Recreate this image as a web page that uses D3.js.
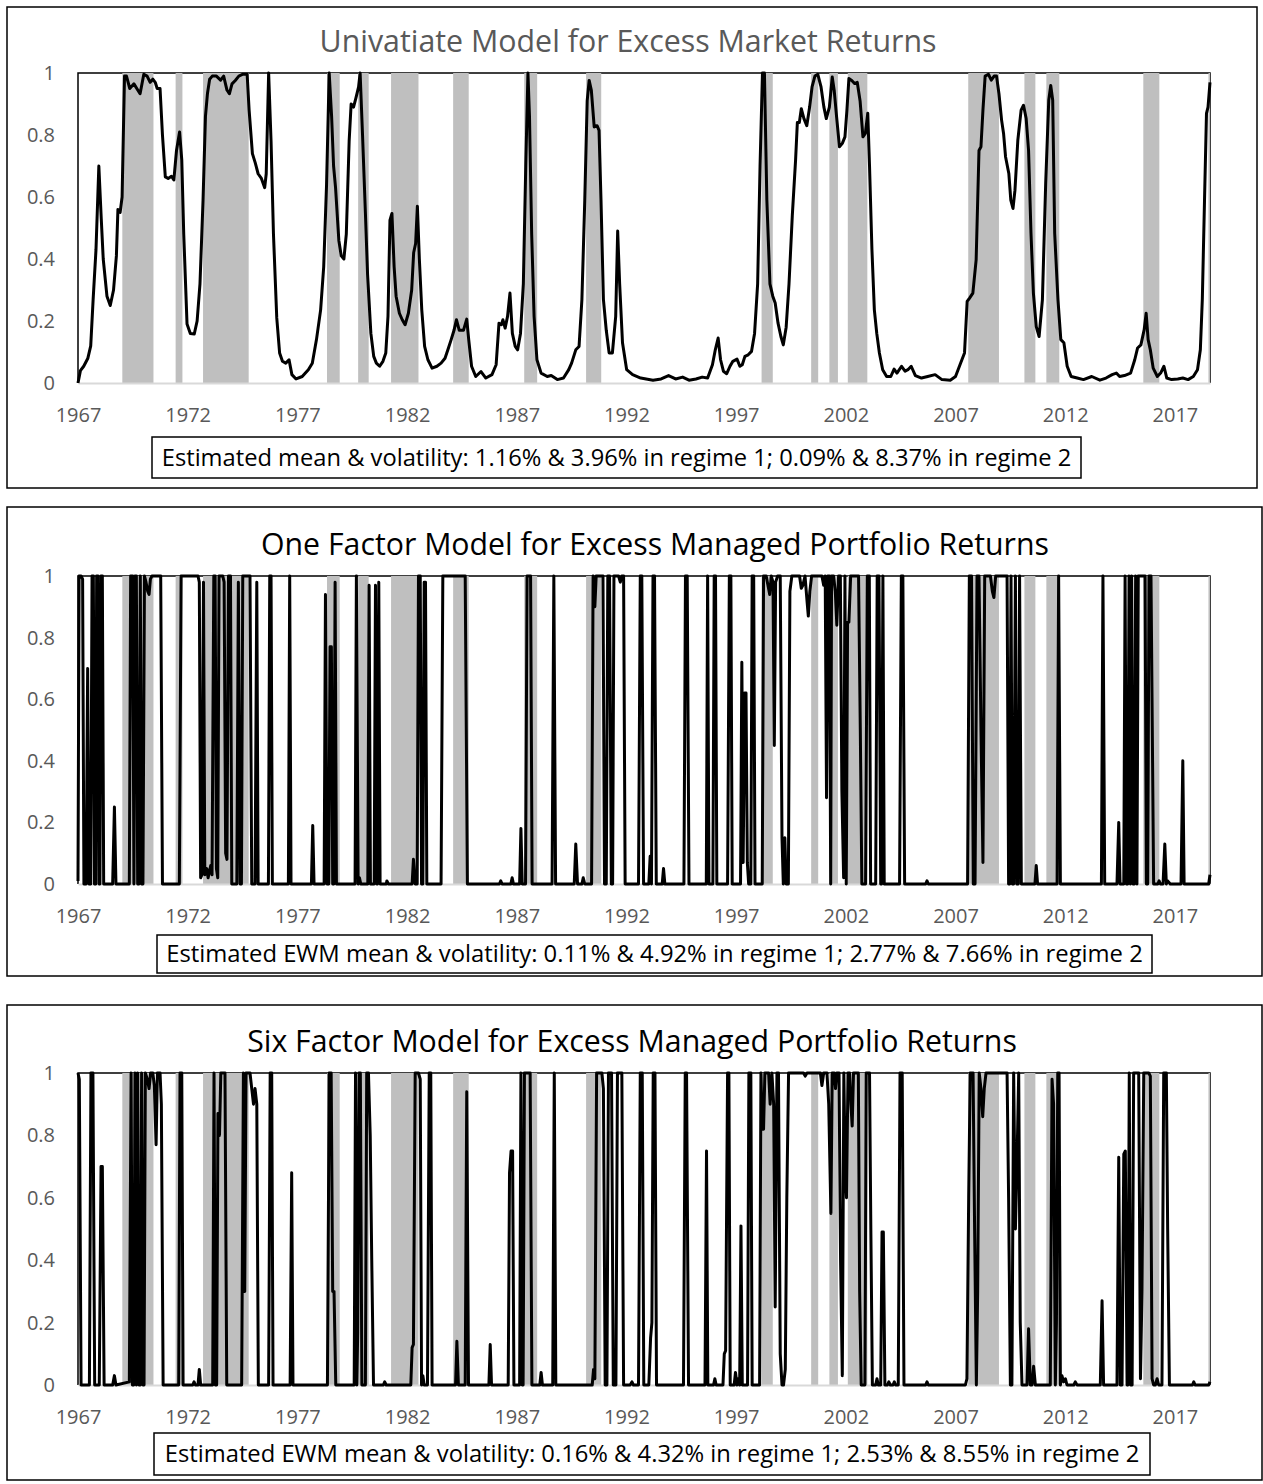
<!DOCTYPE html>
<html>
<head>
<meta charset="utf-8">
<script src="https://cdnjs.cloudflare.com/ajax/libs/d3/7.8.5/d3.min.js"></script>
<style>
  body { margin: 0; background: #fff; }
  text { font-family: "Open Sans", "Noto Sans", sans-serif; }
</style>
</head>
<body>
<svg id="chart" width="1263" height="1484"></svg>
<script>
// tick labels
const xTickYears = [1967, 1972, 1977, 1982, 1987, 1992, 1997, 2002, 2007, 2012, 2017];
const yTicks = [0, 0.2, 0.4, 0.6, 0.8, 1];

// shaded periods [start, end] in decimal years
const shadedPeriods = [
  [1969.02, 1970.44], [1971.45, 1971.76], [1972.70, 1974.78], [1978.35, 1978.93],
  [1979.77, 1980.25], [1981.27, 1982.52], [1984.10, 1984.81], [1987.34, 1987.93],
  [1990.16, 1990.85], [1998.16, 1998.67], [2000.42, 2000.74], [2001.25, 2001.64],
  [2002.09, 2002.98], [2007.58, 2008.98], [2010.14, 2010.64], [2011.14, 2011.73],
  [2015.56, 2016.29], [2018.53, 2018.60]
];

// regime probability, univariate model [year, prob]
const univariate = [
  [1967.00,0.00],[1967.11,0.04],[1967.26,0.054],[1967.45,0.08],[1967.58,0.12],[1967.69,0.27],[1967.82,0.43],[1967.95,0.70],
  [1968.06,0.53],[1968.15,0.40],[1968.32,0.28],[1968.47,0.25],[1968.62,0.30],[1968.75,0.41],[1968.82,0.56],[1968.92,0.55],
  [1969.01,0.60],[1969.12,0.99],[1969.21,0.99],[1969.36,0.95],[1969.55,0.965],[1969.68,0.95],[1969.83,0.933],[1970.00,0.996],
  [1970.15,0.99],[1970.29,0.97],[1970.41,0.98],[1970.52,0.97],[1970.61,0.95],[1970.74,0.95],[1970.85,0.80],[1970.98,0.665],
  [1971.11,0.66],[1971.26,0.667],[1971.37,0.655],[1971.49,0.75],[1971.63,0.81],[1971.73,0.72],[1971.82,0.48],[1971.97,0.19],
  [1972.12,0.16],[1972.30,0.158],[1972.43,0.20],[1972.56,0.32],[1972.70,0.59],[1972.81,0.86],[1972.90,0.933],[1973.00,0.98],
  [1973.12,0.99],[1973.31,0.99],[1973.50,0.977],[1973.64,0.99],[1973.79,0.945],[1973.90,0.933],[1974.02,0.965],[1974.17,0.976],
  [1974.33,0.99],[1974.52,0.996],[1974.71,0.996],[1974.80,0.88],[1974.95,0.74],[1975.08,0.71],[1975.21,0.675],[1975.36,0.66],
  [1975.51,0.63],[1975.58,0.675],[1975.69,1.0],[1975.80,0.78],[1975.91,0.48],[1976.06,0.21],[1976.19,0.097],[1976.32,0.07],
  [1976.47,0.064],[1976.62,0.075],[1976.75,0.027],[1976.94,0.013],[1977.22,0.021],[1977.50,0.043],[1977.68,0.064],[1977.87,0.14],
  [1978.06,0.236],[1978.20,0.375],[1978.33,0.64],[1978.45,1.0],[1978.56,0.86],[1978.65,0.70],[1978.74,0.63],[1978.89,0.46],
  [1979.00,0.41],[1979.12,0.40],[1979.23,0.48],[1979.36,0.78],[1979.45,0.90],[1979.56,0.89],[1979.67,0.92],[1979.79,0.955],
  [1979.86,1.0],[1979.97,0.80],[1980.10,0.55],[1980.20,0.35],[1980.35,0.16],[1980.48,0.086],[1980.60,0.064],[1980.75,0.054],
  [1980.90,0.07],[1981.03,0.097],[1981.13,0.215],[1981.22,0.525],[1981.31,0.547],[1981.41,0.375],[1981.50,0.28],[1981.65,0.225],
  [1981.78,0.204],[1981.91,0.188],[1982.06,0.225],[1982.21,0.30],[1982.30,0.42],[1982.39,0.45],[1982.47,0.57],[1982.56,0.40],
  [1982.67,0.236],[1982.80,0.118],[1982.95,0.075],[1983.14,0.048],[1983.36,0.054],[1983.55,0.064],[1983.73,0.08],[1983.86,0.107],
  [1984.01,0.14],[1984.14,0.17],[1984.25,0.204],[1984.38,0.17],[1984.57,0.17],[1984.72,0.206],[1984.81,0.14],[1984.94,0.054],
  [1985.13,0.021],[1985.37,0.037],[1985.59,0.016],[1985.87,0.027],[1986.06,0.059],[1986.19,0.193],[1986.30,0.188],[1986.37,0.204],
  [1986.47,0.177],[1986.58,0.215],[1986.69,0.29],[1986.80,0.16],[1986.93,0.118],[1987.04,0.107],[1987.17,0.16],[1987.30,0.32],
  [1987.41,0.70],[1987.51,1.0],[1987.58,0.86],[1987.68,0.48],[1987.79,0.215],[1987.92,0.075],[1988.11,0.032],[1988.39,0.021],
  [1988.57,0.024],[1988.85,0.011],[1989.13,0.016],[1989.37,0.043],[1989.50,0.064],[1989.69,0.107],[1989.84,0.118],[1989.97,0.27],
  [1990.10,0.59],[1990.21,0.91],[1990.30,0.976],[1990.40,0.944],[1990.53,0.826],[1990.66,0.83],[1990.75,0.815],[1990.84,0.59],
  [1990.95,0.27],[1991.08,0.17],[1991.21,0.097],[1991.36,0.097],[1991.51,0.215],[1991.60,0.49],[1991.69,0.32],[1991.82,0.13],
  [1992.01,0.043],[1992.28,0.027],[1992.65,0.016],[1993.21,0.009],[1993.58,0.013],[1993.92,0.024],[1994.24,0.013],[1994.56,0.019],
  [1994.85,0.009],[1995.17,0.013],[1995.45,0.019],[1995.70,0.016],[1995.92,0.059],[1996.05,0.107],[1996.18,0.145],[1996.29,0.075],
  [1996.42,0.038],[1996.57,0.03],[1996.72,0.054],[1996.85,0.07],[1997.04,0.077],[1997.17,0.054],[1997.28,0.059],[1997.40,0.086],
  [1997.55,0.091],[1997.70,0.102],[1997.84,0.16],[1997.98,0.32],[1998.09,0.70],[1998.20,1.0],[1998.29,1.0],[1998.40,0.59],
  [1998.54,0.32],[1998.67,0.28],[1998.78,0.258],[1998.91,0.193],[1999.04,0.15],[1999.15,0.123],[1999.28,0.18],[1999.41,0.32],
  [1999.56,0.54],[1999.71,0.72],[1999.79,0.84],[1999.88,0.84],[1999.97,0.885],[2000.09,0.853],[2000.22,0.83],[2000.35,0.89],
  [2000.46,0.955],[2000.59,0.99],[2000.72,0.996],[2000.87,0.955],[2001.00,0.89],[2001.11,0.853],[2001.25,0.89],[2001.38,0.987],
  [2001.47,0.944],[2001.58,0.858],[2001.71,0.762],[2001.84,0.773],[2001.96,0.794],[2002.05,0.88],[2002.14,0.982],[2002.27,0.976],
  [2002.40,0.966],[2002.52,0.97],[2002.65,0.91],[2002.78,0.794],[2002.89,0.805],[2003.00,0.87],[2003.08,0.70],[2003.19,0.43],
  [2003.30,0.236],[2003.41,0.16],[2003.53,0.097],[2003.68,0.043],[2003.86,0.021],[2004.05,0.021],[2004.20,0.045],[2004.33,0.032],
  [2004.54,0.054],[2004.70,0.038],[2004.83,0.043],[2004.98,0.054],[2005.17,0.024],[2005.45,0.016],[2005.73,0.021],[2006.07,0.027],
  [2006.38,0.011],[2006.76,0.009],[2007.00,0.021],[2007.23,0.064],[2007.41,0.097],[2007.53,0.263],[2007.64,0.274],[2007.79,0.29],
  [2007.94,0.397],[2008.07,0.75],[2008.16,0.762],[2008.25,0.88],[2008.35,0.99],[2008.50,0.996],[2008.63,0.977],[2008.76,0.99],
  [2008.87,0.99],[2008.98,0.933],[2009.10,0.848],[2009.19,0.805],[2009.28,0.73],[2009.43,0.676],[2009.52,0.59],[2009.62,0.563],
  [2009.71,0.622],[2009.84,0.783],[2009.99,0.88],[2010.10,0.896],[2010.22,0.853],[2010.33,0.75],[2010.44,0.483],[2010.55,0.29],
  [2010.68,0.182],[2010.81,0.15],[2010.96,0.268],[2011.11,0.644],[2011.25,0.912],[2011.34,0.96],[2011.43,0.912],[2011.52,0.483],
  [2011.67,0.268],[2011.80,0.14],[2011.94,0.13],[2012.09,0.054],[2012.27,0.021],[2012.55,0.016],[2012.83,0.011],[2013.21,0.021],
  [2013.58,0.009],[2013.86,0.016],[2014.14,0.027],[2014.33,0.032],[2014.48,0.021],[2014.70,0.024],[2014.98,0.032],[2015.17,0.075],
  [2015.30,0.113],[2015.45,0.123],[2015.60,0.172],[2015.69,0.225],[2015.78,0.14],[2015.88,0.107],[2016.01,0.048],[2016.20,0.021],
  [2016.35,0.032],[2016.50,0.054],[2016.63,0.016],[2016.85,0.011],[2017.13,0.013],[2017.36,0.016],[2017.60,0.011],[2017.84,0.021],
  [2018.03,0.043],[2018.16,0.107],[2018.25,0.27],[2018.35,0.59],[2018.44,0.87],[2018.51,0.89],[2018.60,0.97]
];

// regime probability, one factor model
const oneFactor = [
  [1967.00,0.01],[1967.05,1.0],[1967.14,1.0],[1967.21,0.99],[1967.27,0.0],[1967.37,0.0],[1967.44,0.7],[1967.50,0.0],
  [1967.58,0.0],[1967.64,1.0],[1967.70,1.0],[1967.75,0.0],[1967.81,0.0],[1967.85,1.0],[1967.91,1.0],[1967.96,0.0],
  [1968.00,0.0],[1968.05,1.0],[1968.11,1.0],[1968.17,0.0],[1968.58,0.0],[1968.66,0.25],[1968.73,0.0],[1969.34,0.0],
  [1969.40,1.0],[1969.49,1.0],[1969.55,0.0],[1969.60,1.0],[1969.66,1.0],[1969.72,0.0],[1969.78,0.0],[1969.84,1.0],
  [1969.90,0.0],[1969.96,0.0],[1970.03,1.0],[1970.10,0.98],[1970.18,0.95],[1970.24,0.94],[1970.30,0.99],[1970.37,1.0],
  [1970.77,1.0],[1970.85,0.0],[1971.62,0.0],[1971.70,1.0],[1972.47,1.0],[1972.53,0.98],[1972.59,0.02],[1972.65,0.03],
  [1972.72,0.98],[1972.78,0.03],[1972.87,0.05],[1972.93,0.02],[1972.99,0.04],[1973.05,0.06],[1973.11,0.03],[1973.19,1.0],
  [1973.25,1.0],[1973.31,0.05],[1973.37,0.02],[1973.43,1.0],[1973.60,1.0],[1973.66,0.98],[1973.73,0.1],[1973.79,0.08],
  [1973.86,1.0],[1973.95,1.0],[1974.01,0.0],[1974.24,0.0],[1974.31,0.98],[1974.39,0.0],[1974.45,0.0],[1974.51,1.0],
  [1974.84,1.0],[1974.92,0.0],[1975.07,0.0],[1975.15,0.98],[1975.21,0.0],[1975.68,0.0],[1975.74,1.0],[1975.80,1.0],
  [1975.86,0.0],[1976.59,0.0],[1976.65,1.0],[1976.71,0.0],[1977.64,0.0],[1977.70,0.19],[1977.76,0.0],[1978.22,0.0],
  [1978.28,0.94],[1978.35,0.0],[1978.43,0.0],[1978.49,0.77],[1978.55,0.77],[1978.61,0.0],[1978.66,0.0],[1978.72,0.98],
  [1978.78,0.0],[1979.63,0.0],[1979.69,1.0],[1979.77,0.0],[1979.83,0.02],[1979.89,0.0],[1980.21,0.0],[1980.27,0.97],
  [1980.33,0.0],[1980.50,0.0],[1980.56,0.97],[1980.62,0.0],[1980.65,0.0],[1980.71,0.98],[1980.77,0.0],[1981.05,0.0],
  [1981.08,0.01],[1981.15,0.0],[1982.23,0.0],[1982.29,0.08],[1982.37,0.0],[1982.46,0.0],[1982.52,1.0],[1982.60,1.0],
  [1982.66,0.0],[1982.72,0.0],[1982.78,0.98],[1982.84,0.98],[1982.90,0.0],[1983.55,0.0],[1983.63,1.0],[1984.65,1.0],
  [1984.75,0.0],[1986.21,0.0],[1986.27,0.01],[1986.33,0.0],[1986.73,0.0],[1986.79,0.02],[1986.85,0.0],[1987.13,0.0],
  [1987.19,0.18],[1987.25,0.0],[1987.40,0.0],[1987.47,1.0],[1987.63,1.0],[1987.70,0.0],[1988.61,0.0],[1988.69,1.0],
  [1988.77,0.0],[1989.62,0.0],[1989.69,0.13],[1989.77,0.0],[1989.97,0.0],[1990.03,0.02],[1990.10,0.0],[1990.41,0.0],
  [1990.48,1.0],[1990.56,0.9],[1990.62,1.0],[1990.93,1.0],[1991.00,0.0],[1991.08,0.0],[1991.15,1.0],[1991.23,1.0],
  [1991.31,0.0],[1991.37,0.0],[1991.43,1.0],[1991.64,1.0],[1991.72,0.98],[1991.79,1.0],[1991.87,1.0],[1991.94,0.0],
  [1992.55,0.0],[1992.63,1.0],[1992.70,1.0],[1992.78,0.0],[1993.02,0.0],[1993.08,0.09],[1993.14,0.0],[1993.21,1.0],
  [1993.28,1.0],[1993.36,0.0],[1993.63,0.0],[1993.69,0.05],[1993.75,0.0],[1994.62,0.0],[1994.69,1.0],[1994.77,1.0],
  [1994.85,0.0],[1995.64,0.0],[1995.70,1.0],[1995.76,0.0],[1995.94,0.0],[1996.00,1.0],[1996.06,1.0],[1996.12,0.0],
  [1996.61,0.0],[1996.69,1.0],[1996.76,1.0],[1996.82,0.0],[1997.20,0.0],[1997.26,0.72],[1997.32,0.07],[1997.39,0.62],
  [1997.45,0.62],[1997.51,0.07],[1997.57,0.0],[1997.67,0.0],[1997.73,1.0],[1997.80,1.0],[1997.86,0.0],[1998.19,0.0],
  [1998.25,1.0],[1998.37,1.0],[1998.45,0.97],[1998.53,0.94],[1998.60,1.0],[1998.68,0.98],[1998.74,0.45],[1998.80,0.98],
  [1998.89,1.0],[1999.01,1.0],[1999.09,0.15],[1999.15,0.0],[1999.22,0.15],[1999.28,0.0],[1999.38,0.0],[1999.45,0.95],
  [1999.54,1.0],[1999.89,1.0],[1999.97,0.96],[2000.04,0.97],[2000.14,1.0],[2000.23,0.92],[2000.29,0.87],[2000.36,0.95],
  [2000.44,1.0],[2000.91,1.0],[2000.99,0.97],[2001.06,1.0],[2001.12,0.28],[2001.18,1.0],[2001.25,1.0],[2001.31,0.0],
  [2001.35,1.0],[2001.44,1.0],[2001.52,0.95],[2001.59,0.84],[2001.67,1.0],[2001.75,1.0],[2001.82,0.3],[2001.90,0.02],
  [2001.96,1.0],[2002.02,0.0],[2002.08,0.85],[2002.14,0.85],[2002.22,1.0],[2002.58,1.0],[2002.66,0.5],[2002.73,0.0],
  [2002.90,0.0],[2002.98,1.0],[2003.07,1.0],[2003.13,0.0],[2003.36,0.0],[2003.43,1.0],[2003.51,1.0],[2003.59,0.0],
  [2003.63,0.0],[2003.69,1.0],[2003.75,0.0],[2004.45,0.0],[2004.53,1.0],[2004.60,1.0],[2004.68,0.0],[2005.64,0.0],
  [2005.70,0.01],[2005.76,0.0],[2007.55,0.0],[2007.63,1.0],[2007.73,1.0],[2007.81,0.0],[2007.89,0.0],[2007.98,1.0],
  [2008.07,1.0],[2008.16,0.5],[2008.25,0.07],[2008.33,1.0],[2008.59,1.0],[2008.68,0.95],[2008.75,0.93],[2008.83,1.0],
  [2009.35,1.0],[2009.42,0.0],[2009.47,0.0],[2009.53,1.0],[2009.59,0.0],[2009.65,0.0],[2009.73,1.0],[2009.79,0.0],
  [2009.86,0.0],[2009.92,1.0],[2010.00,0.0],[2010.62,0.0],[2010.68,0.06],[2010.74,0.0],[2011.63,0.0],[2011.70,1.0],
  [2011.78,0.0],[2013.65,0.0],[2013.72,1.0],[2013.80,0.0],[2014.36,0.0],[2014.44,0.2],[2014.50,0.0],[2014.67,0.0],
  [2014.73,1.0],[2014.79,0.0],[2014.85,0.0],[2014.91,1.0],[2014.97,0.0],[2015.03,1.0],[2015.09,0.0],[2015.15,0.0],
  [2015.21,1.0],[2015.27,0.0],[2015.33,1.0],[2015.64,1.0],[2015.70,0.0],[2015.76,0.0],[2015.82,1.0],[2015.91,1.0],
  [2015.97,0.5],[2016.03,0.0],[2016.22,0.0],[2016.28,0.01],[2016.34,0.0],[2016.46,0.0],[2016.54,0.13],[2016.61,0.0],
  [2016.67,0.01],[2016.79,0.0],[2017.28,0.0],[2017.36,0.4],[2017.42,0.0],[2018.54,0.0],[2018.60,0.03]
];

// regime probability, six factor model
const sixFactor = [
  [1967.00,1.0],[1967.06,0.98],[1967.14,0.0],[1967.52,0.0],[1967.59,1.0],[1967.68,1.0],[1967.76,0.0],[1967.97,0.0],
  [1968.05,0.7],[1968.11,0.7],[1968.19,0.0],[1968.58,0.0],[1968.66,0.03],[1968.73,0.0],[1969.34,0.01],[1969.42,1.0],
  [1969.48,0.0],[1969.54,0.0],[1969.60,1.0],[1969.66,0.0],[1969.72,1.0],[1969.78,0.0],[1969.84,0.0],[1969.90,1.0],
  [1969.96,0.0],[1970.01,0.0],[1970.07,1.0],[1970.16,0.98],[1970.24,0.95],[1970.31,1.0],[1970.41,1.0],[1970.48,0.96],
  [1970.56,0.77],[1970.62,1.0],[1970.74,1.0],[1970.80,0.9],[1970.88,0.0],[1971.59,0.0],[1971.65,1.0],[1971.73,1.0],
  [1971.79,0.0],[1972.23,0.0],[1972.29,0.01],[1972.35,0.0],[1972.47,0.0],[1972.53,0.05],[1972.59,0.0],[1973.14,0.0],
  [1973.20,1.0],[1973.26,0.0],[1973.32,0.0],[1973.38,0.87],[1973.45,0.8],[1973.51,1.0],[1973.70,1.0],[1973.78,0.0],
  [1974.46,0.0],[1974.54,1.0],[1974.60,0.3],[1974.66,1.0],[1974.84,1.0],[1974.92,0.95],[1975.00,0.9],[1975.07,0.95],
  [1975.15,0.9],[1975.22,0.0],[1975.69,0.0],[1975.76,1.0],[1975.83,1.0],[1975.89,0.0],[1976.67,0.0],[1976.74,0.68],
  [1976.80,0.0],[1978.37,0.0],[1978.45,1.0],[1978.54,1.0],[1978.61,0.3],[1978.67,0.3],[1978.75,0.0],[1979.59,0.0],
  [1979.65,1.0],[1979.71,0.0],[1979.75,0.17],[1979.81,1.0],[1979.87,1.0],[1979.94,0.0],[1980.10,0.0],[1980.16,1.0],
  [1980.24,1.0],[1980.32,0.8],[1980.39,0.4],[1980.47,0.0],[1980.92,0.0],[1980.98,0.01],[1981.05,0.0],[1982.17,0.0],
  [1982.23,0.12],[1982.29,0.13],[1982.37,1.0],[1982.52,1.0],[1982.60,0.98],[1982.66,0.0],[1982.72,0.03],[1982.78,0.0],
  [1982.93,0.0],[1983.01,1.0],[1983.08,1.0],[1983.14,0.0],[1984.21,0.0],[1984.27,0.14],[1984.34,0.0],[1984.65,0.0],
  [1984.72,0.94],[1984.80,0.0],[1985.73,0.0],[1985.79,0.13],[1985.85,0.0],[1986.61,0.0],[1986.67,0.68],[1986.74,0.75],
  [1986.81,0.75],[1986.87,0.0],[1987.13,0.0],[1987.19,1.0],[1987.25,0.0],[1987.29,0.0],[1987.35,1.0],[1987.61,1.0],
  [1987.69,0.0],[1988.05,0.0],[1988.11,0.04],[1988.17,0.0],[1988.64,0.0],[1988.71,1.0],[1988.78,0.0],[1990.44,0.0],
  [1990.50,0.05],[1990.56,0.02],[1990.64,1.0],[1990.88,1.0],[1990.95,0.95],[1991.03,0.0],[1991.11,0.0],[1991.18,1.0],
  [1991.32,1.0],[1991.40,0.0],[1991.52,0.0],[1991.59,1.0],[1991.79,1.0],[1991.87,0.0],[1992.17,0.0],[1992.25,0.01],
  [1992.32,0.0],[1992.55,0.0],[1992.63,1.0],[1992.72,1.0],[1992.79,0.0],[1993.02,0.0],[1993.10,0.15],[1993.16,0.2],
  [1993.22,1.0],[1993.30,1.0],[1993.37,0.0],[1994.60,0.0],[1994.68,1.0],[1994.74,1.0],[1994.83,0.0],[1995.58,0.0],
  [1995.65,0.75],[1995.71,0.0],[1995.97,0.0],[1996.03,0.02],[1996.09,0.0],[1996.40,0.0],[1996.46,0.1],[1996.52,0.11],
  [1996.61,1.0],[1996.67,1.0],[1996.73,0.0],[1996.91,0.0],[1996.97,0.04],[1997.04,0.0],[1997.10,0.02],[1997.16,0.0],
  [1997.22,0.51],[1997.28,0.0],[1997.52,0.0],[1997.58,1.0],[1997.67,1.0],[1997.73,0.0],[1998.07,0.0],[1998.13,1.0],
  [1998.19,0.82],[1998.25,0.82],[1998.31,1.0],[1998.48,1.0],[1998.55,0.9],[1998.63,1.0],[1998.71,0.9],[1998.78,0.25],
  [1998.86,1.0],[1998.93,1.0],[1999.01,0.1],[1999.09,0.0],[1999.16,0.0],[1999.24,0.05],[1999.31,0.6],[1999.39,1.0],
  [2000.07,1.0],[2000.15,0.99],[2000.23,1.0],[2000.84,1.0],[2000.91,0.96],[2000.99,1.0],[2001.14,1.0],[2001.22,0.9],
  [2001.32,0.55],[2001.38,1.0],[2001.47,1.0],[2001.53,0.95],[2001.59,1.0],[2001.69,1.0],[2001.76,0.4],[2001.84,0.03],
  [2001.91,1.0],[2001.97,0.7],[2002.03,0.6],[2002.10,1.0],[2002.17,1.0],[2002.23,0.9],[2002.29,0.83],[2002.35,1.0],
  [2002.57,1.0],[2002.63,0.3],[2002.70,0.0],[2002.87,0.0],[2002.93,1.0],[2003.08,1.0],[2003.14,0.5],[2003.21,0.0],
  [2003.36,0.0],[2003.42,0.02],[2003.48,0.0],[2003.59,0.0],[2003.65,0.49],[2003.71,0.49],[2003.78,0.0],[2003.90,0.0],
  [2003.96,0.01],[2004.03,0.0],[2004.15,0.0],[2004.21,0.01],[2004.27,0.0],[2004.39,0.0],[2004.47,1.0],[2004.57,1.0],
  [2004.65,0.0],[2005.64,0.0],[2005.70,0.01],[2005.76,0.0],[2007.45,0.0],[2007.52,0.02],[2007.60,0.6],[2007.67,1.0],
  [2007.80,1.0],[2007.87,0.5],[2007.95,0.0],[2008.01,0.3],[2008.08,1.0],[2008.16,0.95],[2008.24,0.86],[2008.31,0.95],
  [2008.39,1.0],[2009.35,1.0],[2009.42,0.6],[2009.50,0.0],[2009.57,0.0],[2009.65,1.0],[2009.73,0.5],[2009.80,0.7],
  [2009.88,1.0],[2009.95,0.2],[2010.03,0.0],[2010.26,0.0],[2010.33,0.18],[2010.41,0.0],[2010.49,0.0],[2010.56,0.06],
  [2010.64,0.0],[2011.32,0.0],[2011.40,0.98],[2011.47,0.9],[2011.55,0.0],[2011.60,0.2],[2011.66,1.0],[2011.72,1.0],
  [2011.78,0.0],[2011.85,0.03],[2011.93,0.01],[2012.01,0.02],[2012.08,0.0],[2012.39,0.0],[2012.46,0.01],[2012.54,0.0],
  [2013.60,0.0],[2013.68,0.27],[2013.75,0.0],[2014.36,0.0],[2014.44,0.73],[2014.51,0.0],[2014.59,0.0],[2014.67,0.74],
  [2014.74,0.75],[2014.82,0.0],[2014.86,0.0],[2014.92,1.0],[2014.98,0.0],[2015.05,0.0],[2015.12,1.0],[2015.35,1.0],
  [2015.43,0.02],[2015.50,0.3],[2015.58,1.0],[2015.81,1.0],[2015.88,0.99],[2015.96,0.02],[2016.03,0.0],[2016.11,0.0],
  [2016.19,0.02],[2016.26,0.0],[2016.41,0.0],[2016.49,1.0],[2016.61,1.0],[2016.67,0.5],[2016.75,0.0],[2017.80,0.0],
  [2017.86,0.01],[2017.92,0.0],[2018.54,0.0],[2018.60,0.01]
];

const titles = [
  "Univatiate Model for Excess Market Returns",
  "One Factor Model for Excess Managed Portfolio Returns",
  "Six Factor Model for Excess Managed Portfolio Returns"
];
const captions = [
  "Estimated mean & volatility: 1.16% & 3.96% in regime 1; 0.09% & 8.37% in regime 2",
  "Estimated EWM mean & volatility: 0.11% & 4.92% in regime 1; 2.77% & 7.66% in regime 2",
  "Estimated EWM mean & volatility: 0.16% & 4.32% in regime 1; 2.53% & 8.55% in regime 2"
];
const seriesList = [univariate, oneFactor, sixFactor];

// layout of the three stacked panels (pixels)
const layout = [
  { box: [7, 7, 1257, 488], top: 73, bottom: 383, titleY: 52, titleX: 628, titleW: 617, titleColor: "#595959",
    cap: [152, 437, 1081, 478], capW: 910 },
  { box: [7, 507, 1262, 976], top: 576, bottom: 884, titleY: 555, titleX: 655, titleW: 788, titleColor: "#000",
    cap: [157, 935, 1152, 973], capW: 977 },
  { box: [7, 1005, 1262, 1480], top: 1073, bottom: 1385, titleY: 1052, titleX: 632, titleW: 770, titleColor: "#000",
    cap: [154, 1433, 1150, 1475], capW: 975 }
];

const svg = d3.select("#chart");
const x = d3.scaleLinear().domain([1967, 2018.6]).range([78, 1210]);

function fitText(sel, target, start) {
  sel.style("font-size", start + "px");
  const len = sel.node().getComputedTextLength();
  sel.style("font-size", (start * target / len).toFixed(2) + "px");
}

layout.forEach((p, i) => {
  const g = svg.append("g");
  const y = d3.scaleLinear().domain([0, 1]).range([p.bottom, p.top]);

  g.append("rect")
    .attr("x", p.box[0]).attr("y", p.box[1])
    .attr("width", p.box[2] - p.box[0]).attr("height", p.box[3] - p.box[1])
    .attr("fill", "#fff").attr("stroke", "#000").attr("stroke-width", 1.5);

  const title = g.append("text")
    .attr("x", p.titleX).attr("y", p.titleY)
    .attr("text-anchor", "middle")
    .attr("fill", p.titleColor)
    .text(titles[i]);
  fitText(title, p.titleW, 28);

  // plot frame (top, left, right)
  g.append("path")
    .attr("d", `M${x(1967)},${y(0)}V${y(1)}H${x(2018.6)}V${y(0)}`)
    .attr("fill", "none").attr("stroke", "#000").attr("stroke-width", 1.5);

  g.selectAll("rect.band")
    .data(shadedPeriods)
    .join("rect")
    .attr("class", "band")
    .attr("x", d => x(d[0]))
    .attr("width", d => x(d[1]) - x(d[0]))
    .attr("y", y(1))
    .attr("height", y(0) - y(1))
    .attr("fill", "#bfbfbf");

  const xAxis = g.append("g")
    .attr("transform", `translate(0,${p.bottom})`)
    .call(d3.axisBottom(x).tickValues(xTickYears).tickFormat(d3.format("d")).tickSize(0).tickPadding(25));
  xAxis.select(".domain").attr("stroke", "#d9d9d9").attr("stroke-width", 2);
  xAxis.selectAll("text").attr("fill", "#595959").style("font-size", "20px");

  const yAxis = g.append("g")
    .attr("transform", `translate(${x(1967)},0)`)
    .call(d3.axisLeft(y).tickValues(yTicks).tickFormat(d => String(d)).tickSize(0).tickPadding(23));
  yAxis.select(".domain").remove();
  yAxis.selectAll("text").attr("fill", "#595959").style("font-size", "20px");

  g.append("path")
    .datum(seriesList[i])
    .attr("fill", "none")
    .attr("stroke", "#000")
    .attr("stroke-width", 3)
    .attr("stroke-linejoin", "round")
    .attr("d", d3.line().x(d => x(d[0])).y(d => y(d[1])));

  g.append("rect")
    .attr("x", p.cap[0]).attr("y", p.cap[1])
    .attr("width", p.cap[2] - p.cap[0]).attr("height", p.cap[3] - p.cap[1])
    .attr("fill", "#fff").attr("stroke", "#000").attr("stroke-width", 1.5);

  const cap = g.append("text")
    .attr("x", (p.cap[0] + p.cap[2]) / 2)
    .attr("y", (p.cap[1] + p.cap[3]) / 2)
    .attr("dy", "0.35em")
    .attr("text-anchor", "middle")
    .attr("fill", "#000")
    .text(captions[i]);
  fitText(cap, p.capW, 21);
});
</script>
</body>
</html>
